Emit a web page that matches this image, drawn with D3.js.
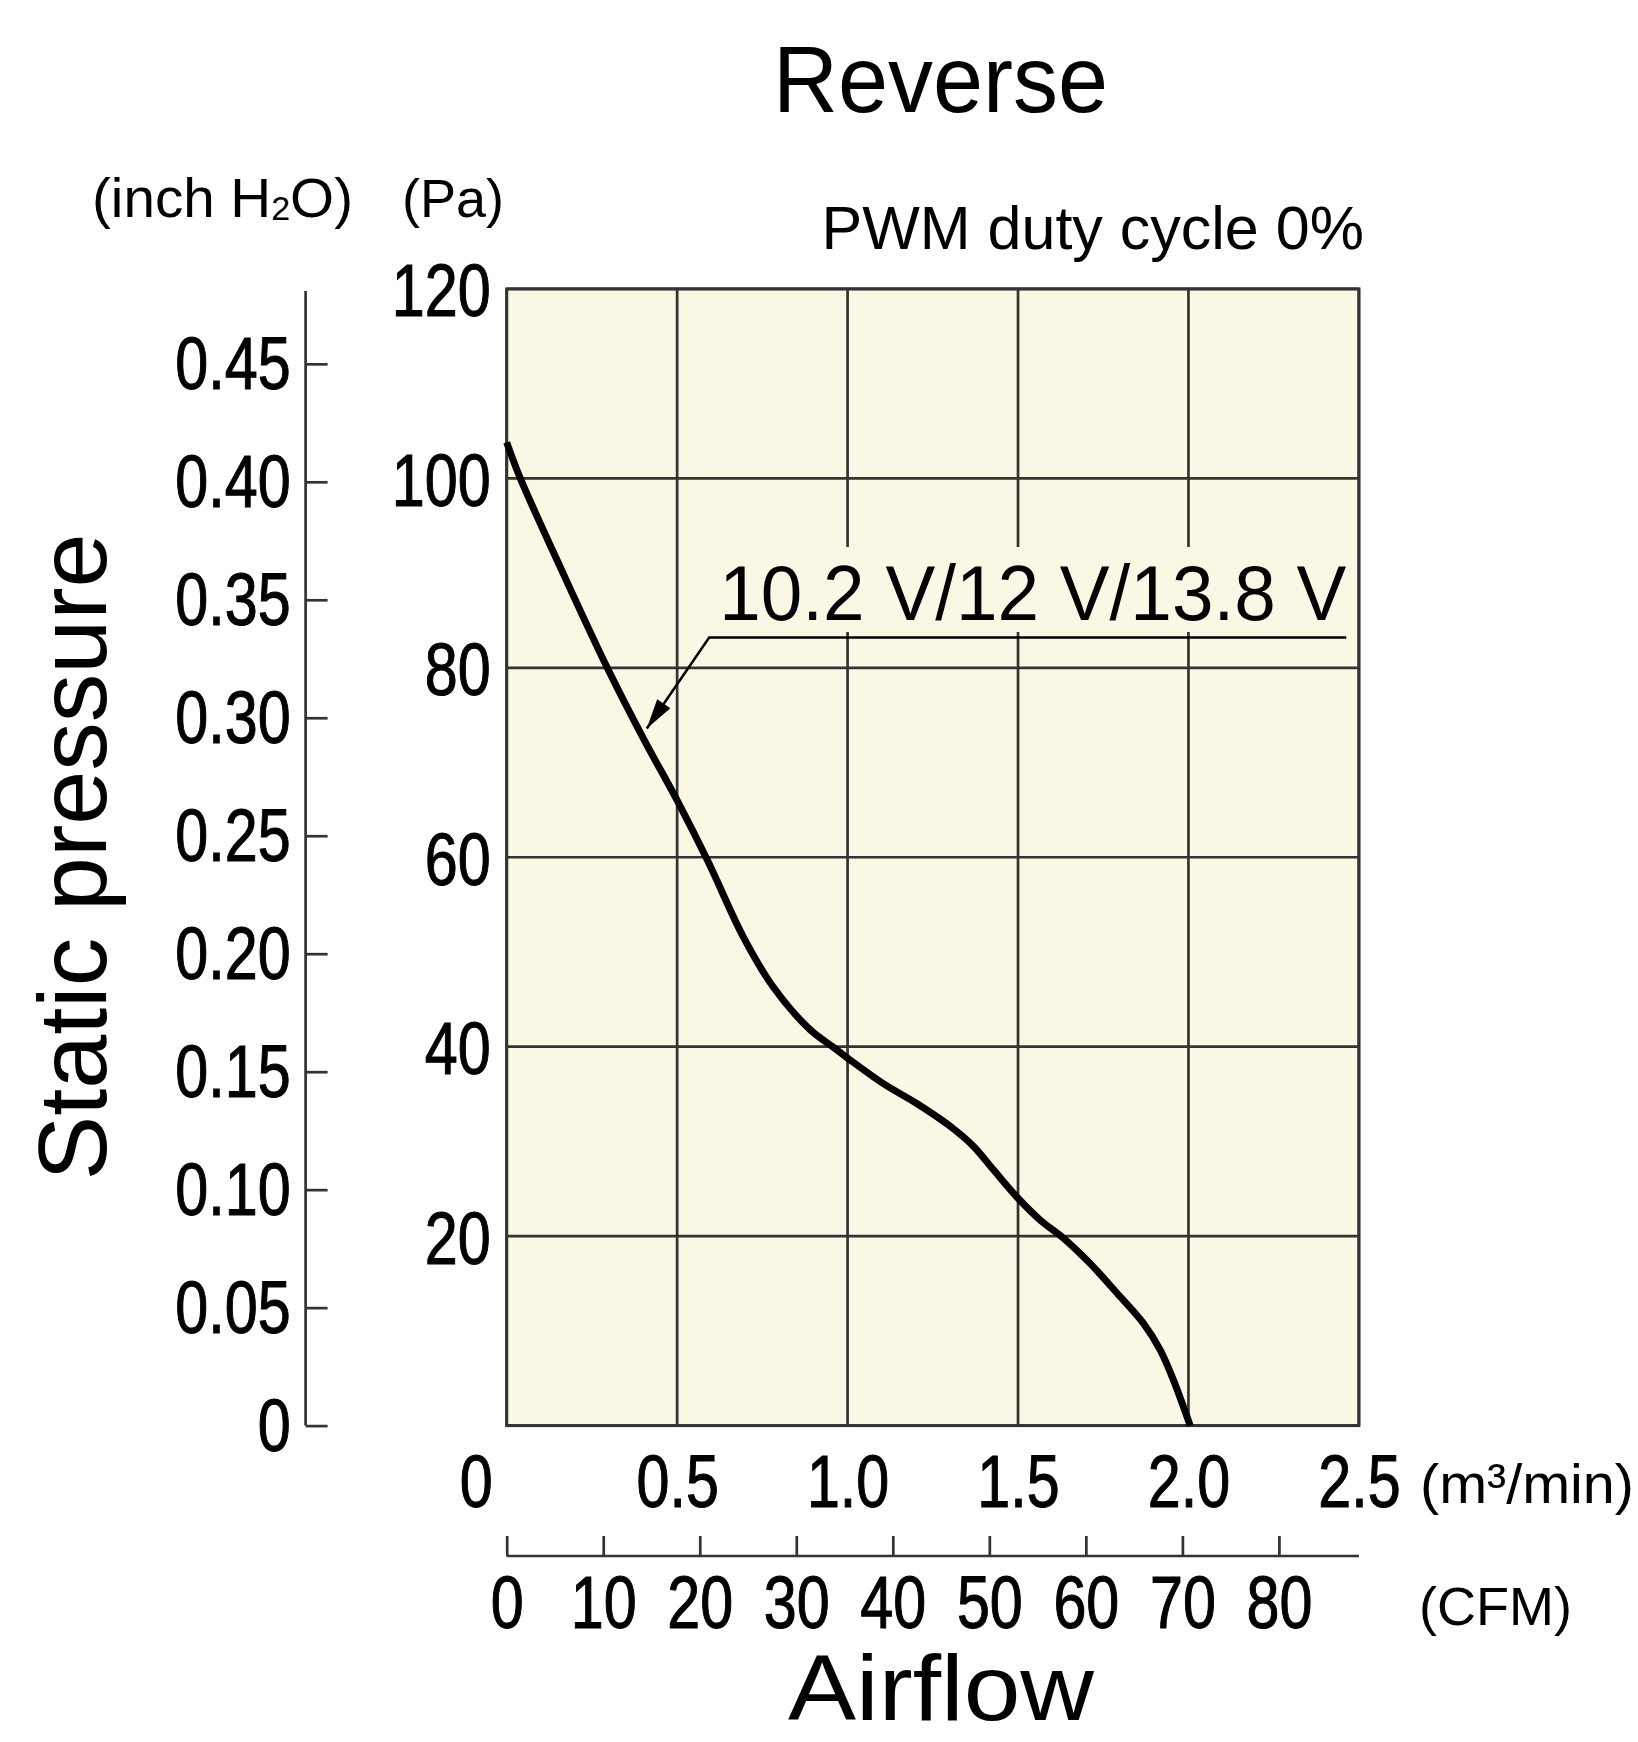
<!DOCTYPE html>
<html>
<head>
<meta charset="utf-8">
<script src="https://cdn.jsdelivr.net/npm/d3@7"></script>
<style>
  html, body { margin: 0; padding: 0; background: #ffffff; }
  svg { display: block; }
  text { font-family: "Liberation Sans", Arial, Helvetica, sans-serif; fill: #000; }
</style>
</head>
<body>
<svg id="chart" width="1638" height="1742"></svg>
<script>
// ---------- data ----------
const airflow = [0.00, 0.04, 0.16, 0.295, 0.40, 0.50, 0.59, 0.694, 0.782, 0.89, 0.96, 1.00, 1.105, 1.203, 1.301, 1.369, 1.428, 1.50, 1.565, 1.633, 1.712, 1.79, 1.868, 1.917, 1.956, 2.005];
const pressure = [103.8, 100.0, 90.4, 80.0, 72.6, 66.0, 59.6, 51.6, 46.3, 41.8, 39.9, 38.8, 36.1, 34.0, 31.6, 29.5, 27.0, 24.0, 21.7, 19.8, 17.1, 14.0, 10.8, 8.0, 4.8, 0];
const paTicks = [20, 40, 60, 80, 100, 120];
const inchTicks = [0, 0.05, 0.10, 0.15, 0.20, 0.25, 0.30, 0.35, 0.40, 0.45];
const inchLabels = ["0", "0.05", "0.10", "0.15", "0.20", "0.25", "0.30", "0.35", "0.40", "0.45"];
const m3Ticks = [0, 0.5, 1.0, 1.5, 2.0, 2.5];
const m3Labels = ["0", "0.5", "1.0", "1.5", "2.0", "2.5"];
const cfmTicks = [0, 10, 20, 30, 40, 50, 60, 70, 80];
const PA_PER_INCH = 249.089;
const CFM_PER_M3MIN = 35.3147;
const title = "Reverse";
const curveLabel = "10.2 V/12 V/13.8 V";
const curveLabelAnchor = { q: 0.411, p: 73.6 };   // arrow tip
const curveLabelElbow = { q: 0.594, p: 83.2 };
const curveLabelEnd = { q: 2.463, p: 83.2 };

// ---------- layout ----------
const L = 506.7, R = 1358.9, T = 288.9, B = 1425.6;
const bg = "#faf8e4";
const gridCol = "#333333";
const tickFont = 75, condenseF = 0.79;

function condense(sel, f) {
  sel.each(function () {
    const w = this.getComputedTextLength();
    d3.select(this).attr("textLength", w * f).attr("lengthAdjust", "spacingAndGlyphs")
      .attr("stroke", "#000").attr("stroke-width", 1.1);
  });
}
function fitTo(sel, len) {
  sel.attr("textLength", len).attr("lengthAdjust", "spacingAndGlyphs");
}

const svg = d3.select("#chart");
const x = d3.scaleLinear().domain([0, 2.5]).range([L, R]);
const y = d3.scaleLinear().domain([0, 120]).range([B, T]);
const yInch = d3.scaleLinear().domain([0, 120 / PA_PER_INCH]).range([B, T]);
const xCfm = d3.scaleLinear().domain([0, 2.5 * CFM_PER_M3MIN]).range([L, R]);

// plot background
svg.append("rect").attr("x", L).attr("y", T).attr("width", R - L).attr("height", B - T)
  .attr("fill", bg);

// grid
const grid = svg.append("g");
grid.selectAll("line.v").data(m3Ticks).join("line")
  .attr("x1", d => x(d)).attr("x2", d => x(d)).attr("y1", T).attr("y2", B)
  .attr("stroke", gridCol).attr("stroke-width", 2.7);
grid.selectAll("line.h").data([0].concat(paTicks)).join("line")
  .attr("x1", L).attr("x2", R).attr("y1", d => y(d)).attr("y2", d => y(d))
  .attr("stroke", gridCol).attr("stroke-width", 2.7);
svg.append("rect").attr("x", L).attr("y", T).attr("width", R - L).attr("height", B - T)
  .attr("fill", "none").attr("stroke", gridCol).attr("stroke-width", 3);

// Pa axis labels
const paAxis = svg.append("g").attr("transform", `translate(${L},0)`)
  .call(d3.axisLeft(y).tickValues(paTicks).tickSize(0).tickPadding(16));
paAxis.select(".domain").remove();
paAxis.selectAll("text").attr("font-size", tickFont).attr("font-family", null).attr("fill", "#000")
  .attr("dy", "0.36em").call(condense, condenseF);

// inch H2O axis
const inchX = 305.6;
const inchAxis = svg.append("g").attr("transform", `translate(${inchX},0)`)
  .call(d3.axisLeft(yInch).tickValues(inchTicks).tickFormat((d, i) => inchLabels[i])
    .tickSize(-22).tickSizeOuter(0).tickPadding(15));
inchAxis.select(".domain").attr("stroke", gridCol).attr("stroke-width", 2.7)
  .attr("d", `M0,${yInch(0)}V${T + 2}`);
inchAxis.selectAll(".tick line").attr("stroke", gridCol).attr("stroke-width", 2.7);
inchAxis.selectAll("text").attr("font-size", tickFont).attr("font-family", null).attr("fill", "#000")
  .attr("dy", "0.33em").call(condense, condenseF);

// m3/min axis labels
const m3Axis = svg.append("g").attr("transform", `translate(0,${B})`)
  .call(d3.axisBottom(x).tickValues(m3Ticks).tickFormat((d, i) => m3Labels[i]).tickSize(0));
m3Axis.select(".domain").remove();
m3Axis.selectAll("text").attr("font-size", tickFont).attr("font-family", null).attr("fill", "#000")
  .attr("y", 81).attr("dy", 0)
  .attr("dx", d => d === 0 ? -31 : 0).call(condense, condenseF);

// CFM axis
const cfmY = 1556;
const cfmAxis = svg.append("g").attr("transform", `translate(0,${cfmY})`)
  .call(d3.axisBottom(xCfm).tickValues(cfmTicks).tickSize(-20).tickSizeOuter(0));
cfmAxis.select(".domain").attr("stroke", gridCol).attr("stroke-width", 2.7)
  .attr("d", `M${L},0H${R}`);
cfmAxis.selectAll(".tick line").attr("stroke", gridCol).attr("stroke-width", 2.7);
cfmAxis.selectAll("text").attr("font-size", tickFont).attr("font-family", null).attr("fill", "#000")
  .attr("y", 72).attr("dy", 0).call(condense, condenseF);

// curve
const pts = airflow.map((q, i) => [q, pressure[i]]);
const line = d3.line().x(d => x(d[0])).y(d => y(d[1])).curve(d3.curveCatmullRom.alpha(0.5));
svg.append("path").datum(pts).attr("d", line)
  .attr("fill", "none").attr("stroke", "#000").attr("stroke-width", 7)
  .attr("stroke-linecap", "butt").attr("stroke-linejoin", "round");

// annotation
const ex = x(curveLabelElbow.q), ey = y(curveLabelElbow.p);
const tx = x(curveLabelAnchor.q), ty = y(curveLabelAnchor.p);
const endX = x(curveLabelEnd.q);
svg.append("rect").attr("x", ex + 6).attr("y", 547).attr("width", R - ex - 8).attr("height", 85)
  .attr("fill", bg);
svg.append("text").attr("x", endX).attr("y", 620)
  .attr("text-anchor", "end").attr("font-size", 77).text(curveLabel)
  .call(fitTo, 627);
svg.append("path").attr("d", `M${endX},${ey}H${ex}L${tx},${ty}`)
  .attr("fill", "none").attr("stroke", "#000").attr("stroke-width", 2.5);
{
  const ang = Math.atan2(ty - ey, tx - ex);
  const len = 30, w = 8;
  const bx = tx - len * Math.cos(ang), by = ty - len * Math.sin(ang);
  const px = -Math.sin(ang) * w, py = Math.cos(ang) * w;
  svg.append("path").attr("d", `M${tx},${ty}L${bx + px},${by + py}L${bx - px},${by - py}Z`)
    .attr("fill", "#000");
}

// titles and unit labels
svg.append("text").attr("x", 940.5).attr("y", 112)
  .attr("text-anchor", "middle").attr("font-size", 94).text(title).call(fitTo, 335);
svg.append("text").attr("x", R + 5).attr("y", 249)
  .attr("text-anchor", "end").attr("font-size", 61).text("PWM duty cycle 0%");
const ih = svg.append("text").attr("x", 92).attr("y", 217).attr("font-size", 55);
ih.append("tspan").text("(inch H");
ih.append("tspan").attr("font-size", 33).attr("dy", 3).text("2");
ih.append("tspan").attr("dy", -3).text("O)");
ih.call(fitTo, 261);
svg.append("text").attr("x", 402).attr("y", 217)
  .attr("font-size", 54).text("(Pa)");
svg.append("text").attr("x", 1420).attr("y", 1503)
  .attr("font-size", 56).text("(m³/min)").call(fitTo, 214);
svg.append("text").attr("x", 1419).attr("y", 1625)
  .attr("font-size", 54).text("(CFM)");
svg.append("text").attr("transform", "translate(106,857) rotate(-90)")
  .attr("text-anchor", "middle").attr("font-size", 97).text("Static pressure");
svg.append("text").attr("x", 941).attr("y", 1720)
  .attr("text-anchor", "middle").attr("font-size", 92).text("Airflow").call(fitTo, 306);
</script>
</body>
</html>
